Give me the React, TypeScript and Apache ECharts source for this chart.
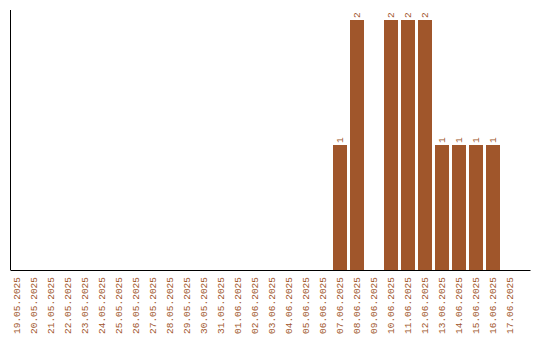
import React, { useEffect, useRef } from "react";
import * as echarts from "echarts";

const categories = [
  "19.05.2025", "20.05.2025", "21.05.2025", "22.05.2025", "23.05.2025",
  "24.05.2025", "25.05.2025", "26.05.2025", "27.05.2025", "28.05.2025",
  "29.05.2025", "30.05.2025", "31.05.2025", "01.06.2025", "02.06.2025",
  "03.06.2025", "04.06.2025", "05.06.2025", "06.06.2025", "07.06.2025",
  "08.06.2025", "09.06.2025", "10.06.2025", "11.06.2025", "12.06.2025",
  "13.06.2025", "14.06.2025", "15.06.2025", "16.06.2025", "17.06.2025",
];
const values = [
  0, 0, 0, 0, 0,
  0, 0, 0, 0, 0,
  0, 0, 0, 0, 0,
  0, 0, 0, 0, 1,
  2, 0, 2, 2, 2,
  1, 1, 1, 1, 0,
];

const BROWN = "#a0562b";
const FONT = "Liberation Mono";

export default function App() {
  const ref = useRef<HTMLDivElement>(null);
  useEffect(() => {
    if (!ref.current) return;
    const chart = echarts.init(ref.current, null, { renderer: "svg" });
    chart.setOption({
      animation: false,
      grid: { left: 8.5, top: 10, width: 510, bottom: 70, containLabel: false },
      xAxis: {
        type: "category",
        data: categories,
        axisLine: { show: false },
        axisTick: { show: false },
        axisLabel: {
          rotate: 90,
          interval: 0,
          margin: 7,
          color: BROWN,
          fontFamily: FONT,
          fontSize: 9.5,
        },
      },
      yAxis: {
        type: "value",
        min: 0,
        max: 2.08,
        axisLine: { show: false },
        axisTick: { show: false },
        axisLabel: { show: false },
        splitLine: { show: false },
      },
      graphic: [
        { type: "line", shape: { x1: 10.5, y1: 10, x2: 10.5, y2: 270 }, style: { stroke: "#000", lineWidth: 1 } },
        { type: "line", shape: { x1: 10.5, y1: 270.5, x2: 530.5, y2: 270.5 }, style: { stroke: "#000", lineWidth: 1 } },
      ],
      series: [
        {
          type: "bar",
          data: values.map((v) => (v === 0 ? null : v)),
          barWidth: 14,
          itemStyle: { color: BROWN },
          label: {
            show: true,
            position: "top",
            rotate: 90,
            align: "left",
            verticalAlign: "middle",
            distance: 2,
            color: BROWN,
            fontFamily: FONT,
            fontSize: 9.5,
          },
        },
      ],
    });
    return () => chart.dispose();
  }, []);
  return <div ref={ref} style={{ width: 540, height: 340, position: "absolute", left: 0, top: 0 }} />;
}
